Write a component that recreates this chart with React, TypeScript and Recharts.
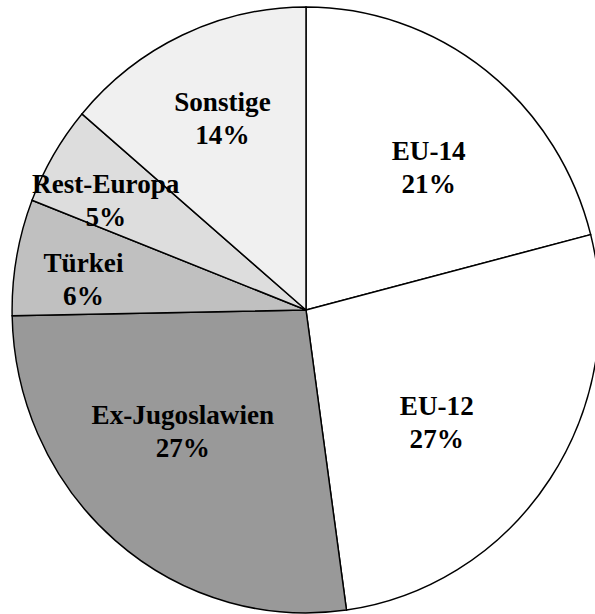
import React from 'react';
import { PieChart, Pie, Cell } from 'recharts';

// Anteile in Prozent, im Uhrzeigersinn ab 12 Uhr
const regions = ['EU-14', 'EU-12', 'Ex-Jugoslawien', 'Türkei', 'Rest-Europa', 'Sonstige'];
const shares = [21.0, 26.8, 26.9, 6.2, 5.3, 13.8];
const fills = ['#ffffff', '#ffffff', '#999999', '#c0c0c0', '#dddddd', '#f0f0f0'];

const data = regions.map((name, i) => ({ name, value: shares[i] }));

const RAD = Math.PI / 180;

const renderLabel = (props: any) => {
    const { cx, cy, midAngle, outerRadius, percent, name } = props;
    // Excel-ish best fit: small slices further out, big ones turned a bit clockwise
    const r = outerRadius * (0.82 - 0.9 * percent);
    const a = midAngle - 40 * (percent - 0.12);
    const x = cx + r * Math.cos(-a * RAD);
    const y = cy + r * Math.sin(-a * RAD);
    return (
        <text
            x={x}
            y={y}
            textAnchor="middle"
            fontFamily="'Liberation Serif', 'Times New Roman', serif"
            fontWeight="bold"
            fontSize={28}
            fill="#000"
        >
            <tspan x={x} dy={-7}>{name}</tspan>
            <tspan x={x} dy={33}>{`${Math.round(percent * 100)}%`}</tspan>
        </text>
    );
};

export default function App() {
    return (
        <div style={{ position: 'absolute', left: 0, top: 0, width: 595, height: 614, overflow: 'hidden', background: '#fff' }}>
            <div style={{ transform: 'scaleX(0.97)', transformOrigin: '306px 0' }}>
                <PieChart width={620} height={614} margin={{ top: 0, right: 0, bottom: 0, left: 0 }}>
                    <Pie
                        data={data}
                        dataKey="value"
                        nameKey="name"
                        cx={306}
                        cy={310}
                        outerRadius={303}
                        startAngle={90}
                        endAngle={-270}
                        stroke="#000"
                        strokeWidth={1.5}
                        label={renderLabel}
                        labelLine={false}
                        isAnimationActive={false}
                    >
                        {data.map((entry, index) => (
                            <Cell key={`cell-${index}`} fill={fills[index]} />
                        ))}
                    </Pie>
                </PieChart>
            </div>
        </div>
    );
}
